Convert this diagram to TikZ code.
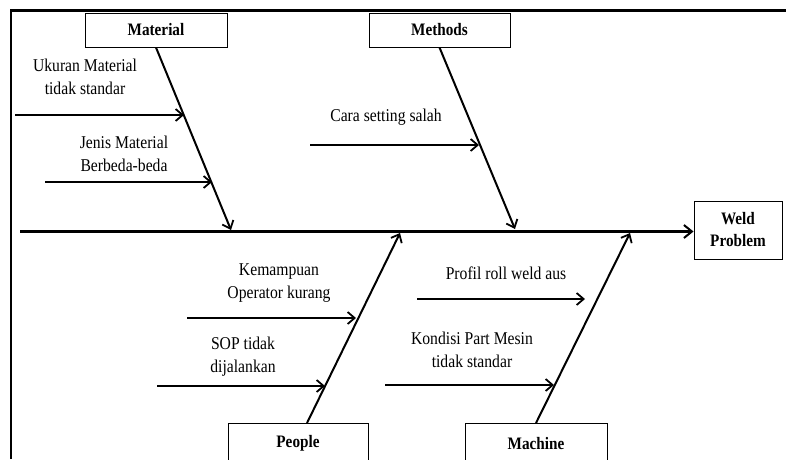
\documentclass[tikz,border=0pt]{standalone}
\usepackage{fontspec}
\setmainfont{Liberation Serif}[FakeStretch=0.87]
\usetikzlibrary{arrows.meta,calc}
\tikzset{
  catbox/.style={draw=black, line width=1pt, fill=white, minimum height=34pt, inner sep=0pt, font=\fontsize{17.5}{20}\selectfont\bfseries},
  cause/.style={font=\fontsize{18}{23}\selectfont, align=center, inner sep=0pt},
  bone/.style={line width=2pt, -{Straight Barb[length=7pt,width=12pt,line width=1.8pt]}},
  spine/.style={line width=2.6pt, -{Straight Barb[length=8pt,width=13pt,line width=2pt]}},
  sub/.style={line width=2.4pt, -{Straight Barb[length=7pt,width=12pt,line width=1.8pt]}},
}
\begin{document}
\begin{tikzpicture}[x=1pt,y=-1pt]
\clip (0,0) rectangle (786,459);
\fill[white] (0,0) rectangle (786,459);
% frame
\draw[line width=2.2pt] (11,459) -- (11,10.5) -- (786,10.5);
% category boxes
\node[catbox, minimum width=142pt] (material) at (156,30) {Material};
\node[catbox, minimum width=141pt] (methods) at (439.5,30) {Methods};
\node[catbox, minimum width=140pt, minimum height=40pt, anchor=north] (people) at (298,423) {\raisebox{-2pt}{People}};
\node[catbox, minimum width=142pt, minimum height=40pt, anchor=north] (machine) at (536,423) {\raisebox{-2pt}{Machine}};
\node[catbox, minimum width=88pt, minimum height=58pt, align=center, font=\fontsize{17.5}{22}\selectfont\bfseries] (weld) at (738,230) {Weld\\Problem};
% spine
\coordinate (tail) at (20,231.5);
\draw[spine] (tail) -- (tail -| weld.west);
% bone end points
\coordinate (matend) at (231,230);
\coordinate (metend) at (515,229);
\coordinate (peoend) at (400,233);
\coordinate (macend) at (630,233);
\coordinate (peostart) at ($(people.north)+(9,0)$);
\draw[bone] (material.south) -- (matend);
\draw[bone] (methods.south) -- (metend);
\draw[bone] (peostart) -- (peoend);
\draw[bone] (machine.north) -- (macend);
% sub causes
\coordinate (u0) at (15,115);   \coordinate (u1) at (184,115);
\coordinate (j0) at (45,182);   \coordinate (j1) at (212,182);
\coordinate (c0) at (310,145);  \coordinate (c1) at (479,145);
\coordinate (k0) at (187,318);  \coordinate (k1) at (356,318);
\coordinate (s0) at (157,386);  \coordinate (s1) at (325,386);
\coordinate (p0) at (417,299);  \coordinate (p1) at (585,299);
\coordinate (d0) at (385,385);  \coordinate (d1) at (554,385);
\draw[sub] (u0) -- (u1);
\draw[sub] (j0) -- (j1);
\draw[sub] (c0) -- (c1);
\draw[sub] (k0) -- (k1);
\draw[sub] (s0) -- (s1);
\draw[sub] (p0) -- (p1);
\draw[sub] (d0) -- (d1);
% labels
\node[cause] (tu) at (85,77) {Ukuran Material\\tidak standar};
\node[cause] (tj) at (124,154) {Jenis Material\\Berbeda-beda};
\node[cause] (tc) at (386,117) {Cara setting salah};
\node[cause] (tk) at (279,283) {Kemampuan\\Operator kurang};
\node[cause] (ts) at (243,357) {SOP tidak\\dijalankan};
\node[cause] (tp) at (506,273) {Profil roll weld aus};
\node[cause] (td) at (472,350) {Kondisi Part Mesin\\tidak standar};
\end{tikzpicture}
\end{document}
